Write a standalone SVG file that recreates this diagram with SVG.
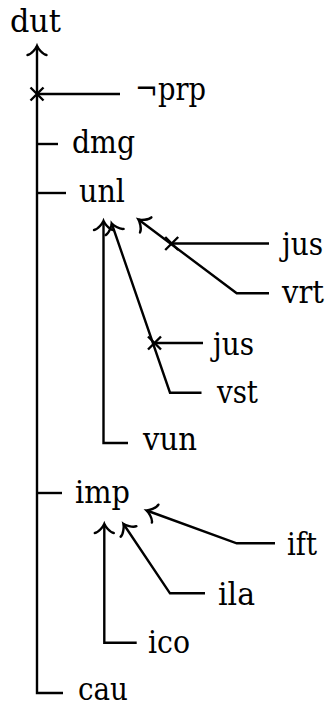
<svg xmlns="http://www.w3.org/2000/svg" width="326" height="706" viewBox="0 0 326 706">
  <style>
    .lbl { font-family: "DejaVu Serif", "Liberation Serif", serif; font-size: 31px; fill: #000; }
    .c { fill: none; stroke: #000; stroke-width: 2.4; }
  </style>
  <defs>
    <marker id="arr" markerUnits="userSpaceOnUse" viewBox="-14 -14 28 28" markerWidth="28" markerHeight="28" refX="0" refY="0" orient="auto" overflow="visible">
      <path d="M-9,9.5 C-8.5,5.5 -1.8,0.7 0,0 C-1.8,-0.7 -8.5,-5.5 -9,-9.5" fill="none" stroke="#000" stroke-width="2.4" stroke-linecap="round"/>
    </marker>
    <marker id="crs" markerUnits="userSpaceOnUse" viewBox="-10 -10 20 20" markerWidth="20" markerHeight="20" refX="0" refY="0" orient="auto" overflow="visible">
      <path d="M-6.5,-6.5 L6.5,6.5 M-6.5,6.5 L6.5,-6.5" fill="none" stroke="#000" stroke-width="2.4"/>
    </marker>
  </defs>

  <g id="connectors">
    <path class="c" d="M63,693 H37 V46" marker-end="url(#arr)"/>
    <path class="c" d="M120,94 H37" marker-end="url(#crs)"/>
    <path class="c" d="M37,144 H58"/>
    <path class="c" d="M37,193 H66"/>
    <path class="c" d="M37,493 H62"/>
    <path class="c" d="M128,443 H103.5 V221" marker-end="url(#arr)"/>
    <path class="c" d="M201.5,392.7 H170 L111.7,223.5" marker-end="url(#arr)"/>
    <path class="c" d="M203,343 H154.5" marker-end="url(#crs)"/>
    <path class="c" d="M269,293.3 H236.7 L138.5,219.5" marker-end="url(#arr)"/>
    <path class="c" d="M269,243.5 H171.7" marker-end="url(#crs)"/>
    <path class="c" d="M136.7,642.7 H104.3 V524" marker-end="url(#arr)"/>
    <path class="c" d="M205,593.3 H170 L123.5,524" marker-end="url(#arr)"/>
    <path class="c" d="M275,543.3 H236.7 L146.7,510.5" marker-end="url(#arr)"/>
  </g>

  <g id="n-dut"><text class="lbl" x="10" y="31.5" textLength="51" lengthAdjust="spacingAndGlyphs">dut</text></g>
  <g id="n-nprp"><text class="lbl" x="135" y="100" textLength="71" lengthAdjust="spacingAndGlyphs">¬prp</text></g>
  <g id="n-dmg"><text class="lbl" x="72" y="153" textLength="63" lengthAdjust="spacingAndGlyphs">dmg</text></g>
  <g id="n-unl"><text class="lbl" x="79" y="202" textLength="46" lengthAdjust="spacingAndGlyphs">unl</text></g>
  <g id="n-jus1"><text class="lbl" x="282" y="255" textLength="41" lengthAdjust="spacingAndGlyphs">jus</text></g>
  <g id="n-vrt"><text class="lbl" x="282" y="303" textLength="42" lengthAdjust="spacingAndGlyphs">vrt</text></g>
  <g id="n-jus2"><text class="lbl" x="213" y="355" textLength="41" lengthAdjust="spacingAndGlyphs">jus</text></g>
  <g id="n-vst"><text class="lbl" x="217" y="403" textLength="41" lengthAdjust="spacingAndGlyphs">vst</text></g>
  <g id="n-vun"><text class="lbl" x="143" y="450" textLength="54" lengthAdjust="spacingAndGlyphs">vun</text></g>
  <g id="n-imp"><text class="lbl" x="75" y="503" textLength="55" lengthAdjust="spacingAndGlyphs">imp</text></g>
  <g id="n-ift"><text class="lbl" x="287" y="555" textLength="30" lengthAdjust="spacingAndGlyphs">ift</text></g>
  <g id="n-ila"><text class="lbl" x="218" y="605" textLength="37" lengthAdjust="spacingAndGlyphs">ila</text></g>
  <g id="n-ico"><text class="lbl" x="148" y="653" textLength="42" lengthAdjust="spacingAndGlyphs">ico</text></g>
  <g id="n-cau"><text class="lbl" x="78" y="700" textLength="50" lengthAdjust="spacingAndGlyphs">cau</text></g>
</svg>
